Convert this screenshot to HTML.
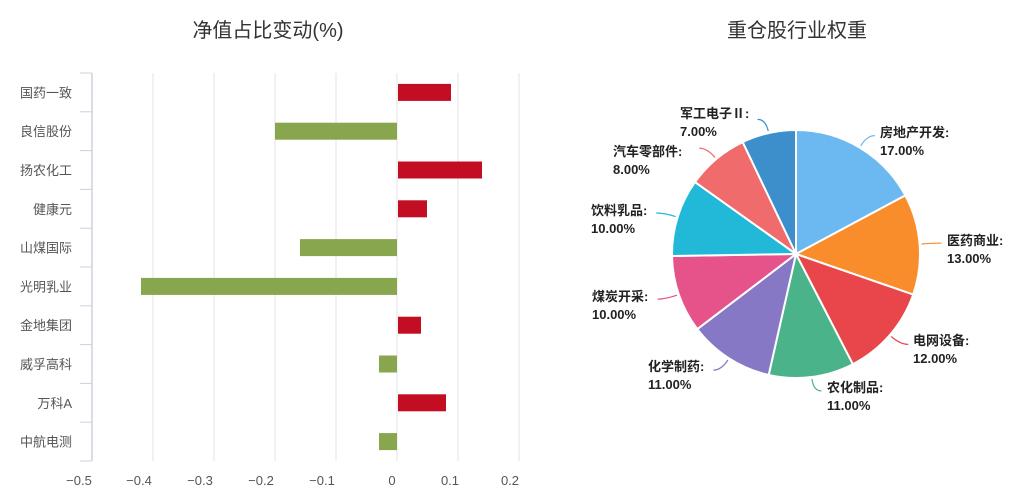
<!DOCTYPE html>
<html><head><meta charset="utf-8"><style>
html,body{margin:0;padding:0;background:#fff;}
svg{display:block;font-family:"Liberation Sans","Noto Sans CJK SC",sans-serif;}
</style></head><body>
<svg id="s" width="1033" height="493" viewBox="0 0 1033 493">
<text x="268" y="37" font-size="20" fill="#333" text-anchor="middle">净值占比变动(%)</text>
<text x="797" y="37" font-size="20" fill="#333" text-anchor="middle">重仓股行业权重</text>
<g id="bar"></g>
<g id="pie"></g>
</svg>
<script>
(function(){
var NS="http://www.w3.org/2000/svg";
function el(p,t,a,txt){var e=document.createElementNS(NS,t);for(var k in a)e.setAttribute(k,a[k]);if(txt!=null)e.textContent=txt;p.appendChild(e);return e;}
var bar=document.getElementById('bar');
var x0=92,sp=61,zero=397,yt=73,yb=461,rh=(yb-yt)/10;
for(var i=1;i<=7;i++){var gx=x0+i*sp;el(bar,'line',{x1:gx,y1:yt,x2:gx,y2:yb,stroke:'#e3e3ea','stroke-width':1});}
el(bar,'line',{x1:x0,y1:yt,x2:x0,y2:yb,stroke:'#ccd0dc','stroke-width':1.5});
for(var i=0;i<=10;i++){var y=yt+i*rh;el(bar,'line',{x1:80,y1:y,x2:x0,y2:y,stroke:'#ccd0dc','stroke-width':1});}
var names=['国药一致','良信股份','扬农化工','健康元','山煤国际','光明乳业','金地集团','威孚高科','万科A','中航电测'];
var ends=[451,275,482,427,300,141,421,379,446,379];
for(var i=0;i<10;i++){var cy=yt+i*rh+rh/2;
el(bar,'text',{x:72,y:cy+5,'font-size':13,fill:'#555','text-anchor':'end'},names[i]);
var e=ends[i],pos=e>zero;
el(bar,'rect',{x:pos?zero+1:e,y:cy-8.5,width:pos?e-zero-1:zero-e,height:17,fill:pos?'#c30d23':'#88a64e'});}
var labs=['−0.5','−0.4','−0.3','−0.2','−0.1','0','0.1','0.2'];
var lx=[79,139,200,261,322,392,450,510];
for(var i=0;i<8;i++)el(bar,'text',{x:lx[i],y:485,'font-size':13,fill:'#555','text-anchor':'middle'},labs[i]);
var pie=document.getElementById('pie');
var cx=796,cy0=254,r=124;
var d=[['房地产开发',17,'#6cb8f0'],['医药商业',13,'#f98d2b'],['电网设备',12,'#e8464a'],['农化制品',11,'#4ab38a'],['化学制药',11,'#8678c4'],['煤炭开采',10,'#e6538a'],['饮料乳品',10,'#22b9d8'],['汽车零部件',8,'#f06b6b'],['军工电子Ⅱ',7,'#3d8fcb']];
var tot=99,a=0;
var L=[[880,132],[947,240],[913,340],[827,387],[648,366],[592,296],[591,210],[613,151],[680,113]];
var pcts=['17.00%','13.00%','12.00%','11.00%','11.00%','10.00%','10.00%','8.00%','7.00%'];
function p(t,rr){return [cx+rr*Math.sin(t),cy0-rr*Math.cos(t)];}
for(var i=0;i<d.length;i++){var a1=a+d[i][1]/tot*2*Math.PI;
var s=p(a,r),e=p(a1,r);
el(pie,'path',{d:'M'+cx+','+cy0+'L'+s[0]+','+s[1]+'A'+r+','+r+' 0 '+((a1-a)>Math.PI?1:0)+' 1 '+e[0]+','+e[1]+'Z',fill:d[i][2],stroke:'#fff','stroke-width':2});
var m=(a+a1)/2,q1=p(m,r+2),q2=p(m,r+14);var right=Math.sin(m)>=0;
var q3=[right?q2[0]+8:q2[0]-8,q2[1]];
el(pie,'path',{d:'M'+q1[0]+','+q1[1]+'Q'+q2[0]+','+q2[1]+' '+q3[0]+','+q3[1],fill:'none',stroke:d[i][2],'stroke-width':1.2});
var lab=L[i];
el(pie,'text',{x:lab[0],y:lab[1]+5,'font-size':13,'font-weight':'bold',fill:'#222'},d[i][0]+':');
el(pie,'text',{x:lab[0],y:lab[1]+23,'font-size':13,'font-weight':'bold',fill:'#222'},pcts[i]);
a=a1;}
})();
</script>
</body></html>
